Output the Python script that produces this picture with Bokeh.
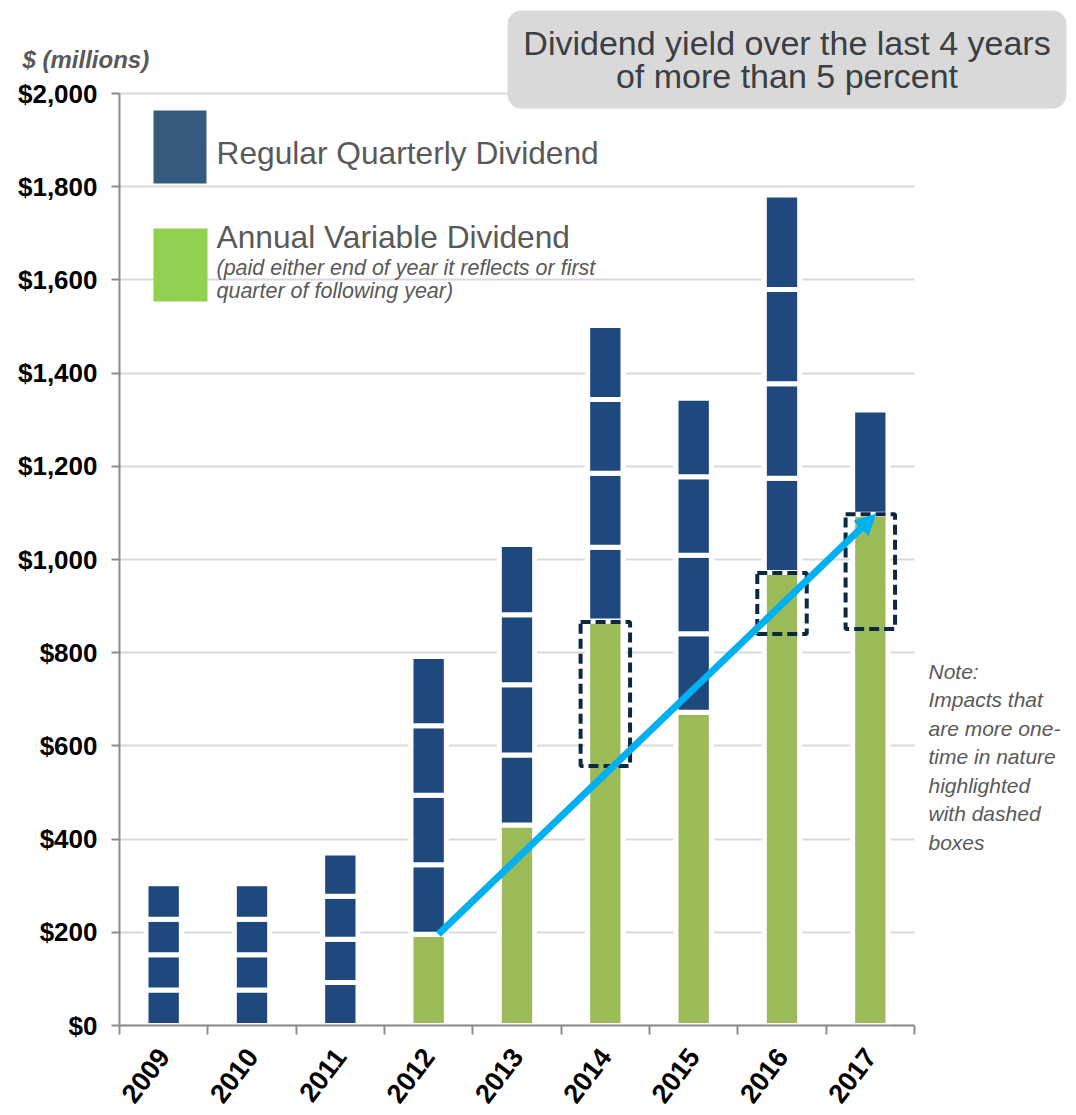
import numpy as np
from math import pi
from bokeh.plotting import figure
from bokeh.models import (ColumnDataSource, Range1d, FixedTicker, NumeralTickFormatter,
                          Label, BoxAnnotation, Arrow, NormalHead)
from bokeh.embed import file_html
from bokeh.resources import INLINE

# ---------------- data ----------------
years = ["2009", "2010", "2011", "2012", "2013", "2014", "2015", "2016", "2017"]
variable_dividend = [0, 0, 0, 196, 430, 868, 672, 972, 1097]
q1 = [76, 76, 92.5, 149, 150.5, 158.5, 168.5, 202.5, 224]
q2 = [76, 76, 92.5, 149, 150.5, 158.5, 168.5, 202.5, 0]
q3 = [76, 76, 92.5, 149, 150.5, 158.5, 168.5, 202.5, 0]
q4 = [76, 76, 92.5, 149, 150.5, 158.5, 168.5, 202.5, 0]
onetime_years = ["2014", "2016", "2017"]
onetime_low = [557, 840, 851]
onetime_high = [866, 971, 1097]
y_ticks = list(range(0, 2001, 200))

# ---------------- style ----------------
BLUE = "#1F497D"
GREEN = "#9BBB59"
LEG_BLUE = "#375A7F"
LEG_GREEN = "#92D050"
ARROW_C = "#00B0F0"
BOX_C = "#0E2841"
GREY_TXT = "#595959"
AXIS_C = "#8C8C8C"
FONT = "Liberation Sans"

W, H = 1076, 1115
# pixel geometry of the chart's value area inside the page
FL, FR, FT, FB = 119, 914, 93, 1025
n = len(years)
XA, XB = -0.5, n - 0.5          # category extent
YA, YB = 0, 2000                # value extent
kx = (XB - XA) / (FR - FL)
ky = (YB - YA) / (FB - FT)
X0, X1 = XA - FL * kx, XB + (W - FR) * kx
Y0, Y1 = YA - (H - FB) * ky, YB + FT * ky


def sx(px):
    return XA + (px - FL) * kx


def sy(py):
    return YA + (FB - py) * ky


# build stacked segments from data
xs, bottoms, tops, colors = [], [], [], []
for i in range(n):
    base = 0.0
    parts = [(variable_dividend[i], GREEN)] + [(q[i], BLUE) for q in (q1, q2, q3, q4)]
    for val, col in parts:
        if val > 0:
            xs.append(i)
            bottoms.append(base)
            tops.append(base + val)
            colors.append(col)
            base += val
seg_src = ColumnDataSource(dict(x=xs, bottom=bottoms, top=tops, color=colors))

box_src = ColumnDataSource(dict(
    x=[years.index(y) for y in onetime_years],
    bottom=onetime_low, top=onetime_high))

p = figure(width=W, height=H, output_backend="svg", toolbar_location=None,
           x_range=Range1d(X0, X1), y_range=Range1d(Y0, Y1),
           min_border_left=0, min_border_right=0, min_border_top=0, min_border_bottom=0)
p.title.visible = False
p.outline_line_color = None
p.background_fill_color = "white"
p.border_fill_color = "white"

p.vbar(x="x", bottom="bottom", top="top", width=0.40, source=seg_src,
       fill_color="color", line_color="white", line_width=5)

p.vbar(x="x", bottom="bottom", top="top", width=0.56, source=box_src,
       fill_color=None, line_color=BOX_C, line_width=4, line_dash="10 5")

# arrow from 2012 variable dividend to 2017 variable dividend
i12, i17 = years.index("2012"), years.index("2017")
p.add_layout(Arrow(end=NormalHead(size=20, fill_color=ARROW_C, line_color=ARROW_C, line_width=1),
                   x_start=i12 + 0.11, y_start=variable_dividend[i12],
                   x_end=i17 + 0.06, y_end=variable_dividend[i17],
                   line_color=ARROW_C, line_width=7))

# axes (kept in their panels, drawn at fixed locations)
p.yaxis.fixed_location = XA
p.yaxis.bounds = (YA, YB)
p.yaxis.ticker = FixedTicker(ticks=y_ticks)
p.yaxis.formatter = NumeralTickFormatter(format="$0,0")
p.yaxis.major_label_text_font = FONT
p.yaxis.major_label_text_font_style = "bold"
p.yaxis.major_label_text_font_size = "26px"
p.yaxis.major_label_text_color = "black"
p.yaxis.major_tick_in = 0
p.yaxis.major_tick_out = 8
p.yaxis.major_tick_line_color = AXIS_C
p.yaxis.major_tick_line_width = 2
p.yaxis.minor_tick_line_color = None
p.yaxis.axis_line_color = AXIS_C
p.yaxis.axis_line_width = 2
p.yaxis.major_label_standoff = 14

p.xaxis.fixed_location = YA
p.xaxis.bounds = (XA, XB)
p.xaxis.ticker = FixedTicker(ticks=list(range(n)), minor_ticks=[i - 0.5 for i in range(n + 1)])
p.xaxis.major_label_overrides = {i: y for i, y in enumerate(years)}
p.xaxis.major_tick_line_color = None
p.xaxis.major_tick_in = 0
p.xaxis.major_tick_out = 8
p.xaxis.minor_tick_in = 0
p.xaxis.minor_tick_out = 9
p.xaxis.minor_tick_line_color = AXIS_C
p.xaxis.minor_tick_line_width = 2
p.xaxis.axis_line_color = AXIS_C
p.xaxis.axis_line_width = 2
p.xaxis.major_label_orientation = 0.92
p.xaxis.major_label_text_font = FONT
p.xaxis.major_label_text_font_style = "bold"
p.xaxis.major_label_text_font_size = "27px"
p.xaxis.major_label_text_color = "black"
p.xaxis.major_label_standoff = 17

p.xgrid.grid_line_color = None
p.ygrid.grid_line_color = "#D9D9D9"
p.ygrid.grid_line_width = 2
try:
    p.ygrid.cross_bounds = (XA, XB)
except Exception:
    pass

# legend swatches and texts
p.add_layout(BoxAnnotation(left=sx(153), right=sx(206), bottom=sy(183), top=sy(110),
                           fill_color=LEG_BLUE, fill_alpha=1, line_color=None))
p.add_layout(BoxAnnotation(left=sx(153), right=sx(207), bottom=sy(301), top=sy(228),
                           fill_color=LEG_GREEN, fill_alpha=1, line_color=None))
p.add_layout(Label(x=sx(216), y=sy(152), text="Regular Quarterly Dividend",
                   text_font=FONT, text_font_size="31.7px", text_color=GREY_TXT,
                   text_baseline="middle", text_align="left"))
p.add_layout(Label(x=sx(216), y=sy(236), text="Annual Variable Dividend",
                   text_font=FONT, text_font_size="31.7px", text_color=GREY_TXT,
                   text_baseline="middle", text_align="left"))
p.add_layout(Label(x=sx(216), y=sy(267), text="(paid either end of year it reflects or first",
                   text_font=FONT, text_font_size="21.5px", text_font_style="italic",
                   text_color=GREY_TXT, text_baseline="middle", text_align="left"))
p.add_layout(Label(x=sx(216), y=sy(290), text="quarter of following year)",
                   text_font=FONT, text_font_size="21.5px", text_font_style="italic",
                   text_color=GREY_TXT, text_baseline="middle", text_align="left"))

# unit label
p.add_layout(Label(x=sx(22), y=sy(59), text="$ (millions)",
                   text_font=FONT, text_font_size="24px", text_font_style="bold italic",
                   text_color=GREY_TXT, text_baseline="middle", text_align="left"))

# title box
p.add_layout(BoxAnnotation(left=sx(507), right=sx(1066), top=sy(10), bottom=sy(108),
                           fill_color="#D9D9D9", fill_alpha=1, line_color=None,
                           border_radius=14))
p.add_layout(Label(x=sx(786.5), y=sy(59),
                   text="Dividend yield over the last 4 years\nof more than 5 percent",
                   text_font=FONT, text_font_size="34px", text_color="#3B3F44",
                   text_align="center", text_baseline="middle", text_line_height=0.85))

# note
p.add_layout(Label(x=sx(928), y=sy(659),
                   text="Note:\nImpacts that\nare more one-\ntime in nature\nhighlighted\nwith dashed\nboxes",
                   text_font=FONT, text_font_size="21px", text_font_style="italic",
                   text_color=GREY_TXT, text_align="left", text_baseline="top",
                   text_line_height=1.24))

open("out.html", "w").write(file_html(p, INLINE))
